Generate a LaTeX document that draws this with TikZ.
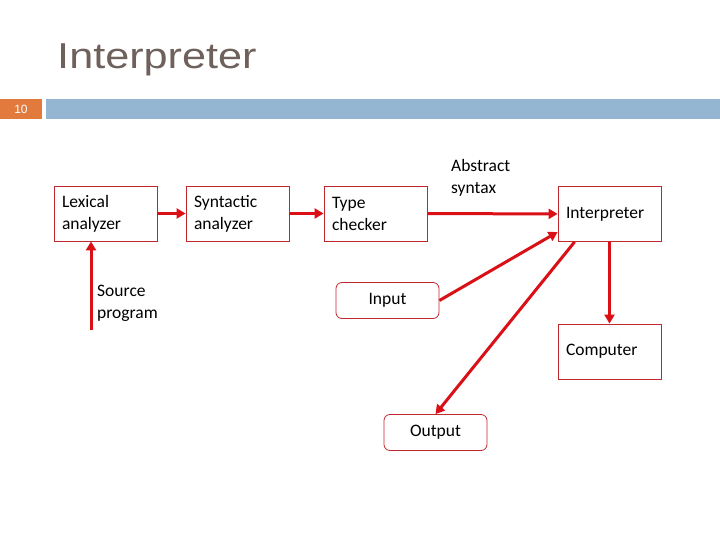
\documentclass[tikz,border=0pt]{standalone}
\usepackage{fontspec}
\setmainfont{Carlito}
\newfontfamily\titlefont{Liberation Sans}
\usetikzlibrary{arrows.meta}
\definecolor{boxred}{RGB}{192,40,45}
\definecolor{arrowred}{RGB}{218,16,22}
\definecolor{titlegray}{RGB}{110,96,90}
\definecolor{baror}{RGB}{226,122,62}
\definecolor{barblue}{RGB}{148,182,210}
\tikzset{
  stage/.style={draw=boxred, line width=0.8pt, minimum width=103pt, minimum height=55pt,
    text width=87pt, inner xsep=8pt, align=left, font=\fontsize{17.5}{22}\selectfont},
  datum/.style={draw=boxred, line width=0.8pt, rounded corners=6pt, minimum width=103pt,
    minimum height=36pt, align=center, font=\fontsize{17.5}{22}\selectfont},
  label/.style={align=left, inner sep=0pt, anchor=north west, font=\fontsize{17.5}{22}\selectfont},
  flow/.style={draw=arrowred, line width=3pt, -{Triangle[length=9pt,width=10pt]}}
}
\begin{document}
\begin{tikzpicture}[x=1pt, y=-1pt]
\useasboundingbox (0,0) rectangle (720,540);
% title and bar
\node[anchor=west, inner sep=0pt, text=titlegray, xscale=1.2] (title) at (57,60) {\titlefont\fontsize{36}{40}\selectfont Interpreter};
\fill[baror] (0,99) rectangle (42,119);
\fill[barblue] (46,99) rectangle (720,119);
\node[text=white, font=\titlefont\fontsize{12}{14}\selectfont] (page) at (21,109) {10};
% stages
\node[stage] (lex) at (105.5,213.5) {Lexical\\analyzer};
\node[stage] (syn) at (237.5,213.5) {Syntactic\\analyzer};
\node[stage] (type) at (375.5,213.5) {Type\\checker};
\node[stage] (interp) at (609.5,214) {Interpreter};
\node[stage] (comp) at (609.5,351.5) {Computer};
\node[datum] (input) at (387.5,300.5) {Input};
\node[datum] (output) at (435.5,432.5) {Output};
\node[label] (ast) at (451,159) {Abstract\\syntax};
\node[label] (srclbl) at (97,285) {Source\\program};
\coordinate (src) at (91,330);
% connectors
\draw[flow] (lex) -- (syn);
\draw[flow] (syn) -- (type);
\draw[flow] (type) -- (interp);
\draw[flow] (src) -- (src |- lex.south);
\draw[flow] (input.east) -- ([yshift=-18pt]interp.west);
\draw[flow] ([xshift=17pt]interp.south west) -- (output.north);
\draw[flow] (interp) -- (comp);
\end{tikzpicture}
\end{document}
